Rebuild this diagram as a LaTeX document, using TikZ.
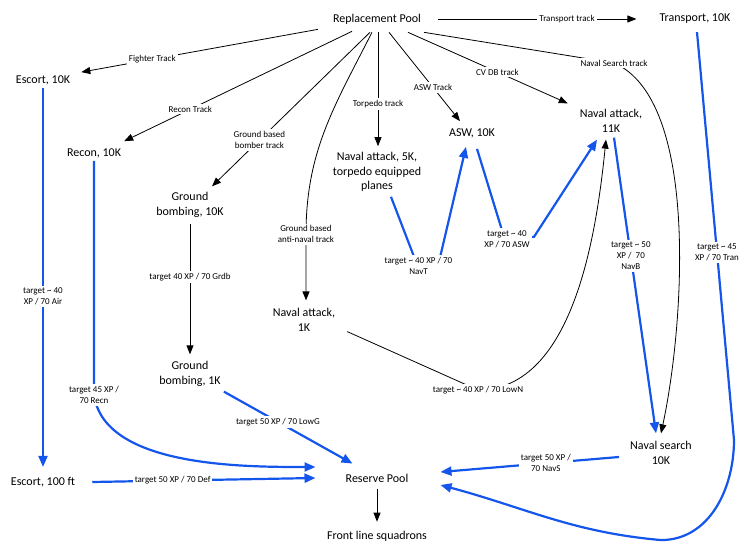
\documentclass[tikz,border=0pt]{standalone}
\usepackage{fontspec}
\setmainfont{Carlito}
\usetikzlibrary{arrows.meta, positioning}
\definecolor{flowBlue}{RGB}{20,85,235}

\begin{document}
\begin{tikzpicture}[
    on grid,
    node distance=60pt and 60pt,
    station/.style={align=center, inner sep=3pt, font=\fontsize{12}{14.5}\selectfont},
    tag/.style={align=center, fill=white, text=black, inner sep=2pt, font=\fontsize{9}{11}\selectfont},
    track/.style={-{Triangle[length=9pt, width=7pt]}, line width=0.8pt, black},
    flow/.style={-{Triangle[length=11pt, width=9pt]}, line width=2.2pt, flowBlue}
]
\useasboundingbox (0,0) rectangle (756pt,-553pt);

% Pools
\node[station] (pool) at (377pt,-19pt) {Replacement Pool};
\node[station, below=459pt of pool] (reserve) {Reserve Pool};
\node[station, below=58pt of reserve] (front) {Front line squadrons};

% Squadron types
\node[station, right=318pt of pool] (transport) {Transport, 10K};
\node[station, below left=61pt and 334pt of pool] (esc10) {Escort, 10K};
\node[station, below=402pt of esc10] (esc100) {Escort, 100 ft};
\node[station, below right=73pt and 51pt of esc10] (recon) {Recon, 10K};
\node[station, below right=52pt and 96pt of recon] (gb10) {Ground\\bombing, 10K};
\node[station, below=169pt of gb10] (gb1) {Ground\\bombing, 1K};
\node[station, below left=301pt and 73pt of pool] (na1) {Naval attack,\\1K};
\node[station, below=153pt of pool] (na5) {Naval attack, 5K,\\torpedo equipped\\planes};
\node[station, below right=114pt and 95pt of pool] (asw) {ASW, 10K};
\node[station, below right=102pt and 234pt of pool] (na11) {Naval attack,\\11K};
\node[station, below right=332pt and 50pt of na11] (search) {Naval search\\10K};

% Tracks out of the replacement pool
\draw[track] ([xshift=14pt]pool.east) -- node[tag, pos=0.65] {Transport track} ([xshift=-20pt]transport.west);
\draw[track] ([xshift=-59pt,yshift=-2pt]pool.south) -- node[tag, pos=0.7] {Fighter Track} ([xshift=8pt]esc10.north east);
\draw[track] ([xshift=-25pt,yshift=-4pt]pool.south) -- node[tag, pos=0.71] {Recon Track} ([yshift=4pt]recon.north east);
\draw[track] ([xshift=-7pt,yshift=-5pt]pool.south) -- node[tag, pos=0.7] {Ground based\\bomber track} ([xshift=22pt,yshift=3pt]gb10.north);
\draw[track] ([xshift=-5pt,yshift=-5pt]pool.south) to[out=-117, in=90] ([xshift=2pt,yshift=71pt]na1.north) node[tag] {Ground based\\anti-naval track} -- ([xshift=2pt,yshift=5pt]na1.north);
\draw[track] ([xshift=1pt,yshift=-5pt]pool.south) -- node[tag, pos=0.63] {Torpedo track} ([xshift=1pt,yshift=3pt]na5.north);
\draw[track] ([xshift=12pt,yshift=-5pt]pool.south) -- node[tag, pos=0.62] {ASW Track} ([xshift=-12pt,yshift=4pt]asw.north);
\draw[track] ([xshift=31pt,yshift=-5pt]pool.south) -- node[tag, pos=0.56] {CV DB track} ([xshift=-9pt,yshift=3pt]na11.north west);
\draw[track] ([xshift=47pt,yshift=-5pt]pool.south) -- ([xshift=237pt,yshift=-44pt]pool.center) node[tag] {Naval Search track}
    .. controls +(86pt,-37pt) and +(23pt,107pt) .. ([yshift=5pt]search.north);

% Black target moves
\draw[track] ([yshift=-3pt]gb10.south) -- node[tag, pos=0.41] {target 40 XP / 70 Grdb} ([yshift=4pt]gb1.north);
\draw[track] ([xshift=9pt,yshift=3pt]na1.south east) -- ([xshift=101pt,yshift=88pt]reserve.center) node[tag] {target \textasciitilde{} 40 XP / 70 LowN}
    .. controls +(97pt,0pt) and +(-9pt,-88pt) .. ([xshift=-5pt,yshift=-4pt]na11.south);
\draw[track] ([yshift=-4pt]reserve.south) -- ([yshift=6pt]front.north);

% Blue target moves
\draw[flow] (esc10.south) -- node[tag, pos=0.55] {target \textasciitilde{} 40\\XP / 70 Air} ([yshift=7pt]esc100.north);
\draw[flow] (recon.south) -- ([yshift=-234pt]recon.south) node[tag] {target 45 XP /\\70 Recn}
    to[out=-82, in=180, looseness=0.8] ([xshift=-27pt,yshift=11pt]reserve.west);
\draw[flow] ([xshift=14pt]esc100.east) -- node[tag, pos=0.36] {target 50 XP / 70 Def} ([xshift=-27pt]reserve.west);
\draw[flow] ([yshift=-2pt]gb1.south east) -- node[tag, pos=0.42] {target 50 XP / 70 LowG} ([xshift=10pt,yshift=7pt]reserve.north west);
\draw[flow] ([xshift=-8pt,yshift=-4pt]search.west) -- node[tag, pos=0.41] {target 50 XP /\\70 NavS} ([xshift=29pt,yshift=6pt]reserve.east);
\draw[flow] ([xshift=2pt,yshift=-5pt]transport.south) -- node[tag, pos=0.54] {target \textasciitilde{} 45\\XP / 70 Tran} ++(37pt,-408pt)
    to[out=-90, in=0] ++(-73pt,-100pt) to[out=175, in=-15] ([xshift=29pt,yshift=-7pt]reserve.east);
\draw[flow] ([xshift=14pt,yshift=-2pt]na5.south) -- ++(25pt,-65pt) -- node[tag, xshift=-9pt, yshift=-4pt] {target \textasciitilde{} 40 XP / 70\\NavT} ++(23pt,0pt) -- ([xshift=-6pt,yshift=-6pt]asw.south);
\draw[flow] ([xshift=5pt,yshift=-8pt]asw.south) -- ++(27pt,-88pt) -- node[tag, xshift=-12pt, yshift=-2pt] {target \textasciitilde{} 40\\XP / 70 ASW} ++(30pt,0pt) -- ([xshift=-14pt,yshift=-4pt]na11.south);
\draw[flow] ([xshift=3pt,yshift=-2pt]na11.south) -- node[tag, pos=0.4] {target \textasciitilde{} 50\\XP / \ 70\\NavB} ([xshift=-5pt,yshift=5pt]search.north);

\end{tikzpicture}
\end{document}
